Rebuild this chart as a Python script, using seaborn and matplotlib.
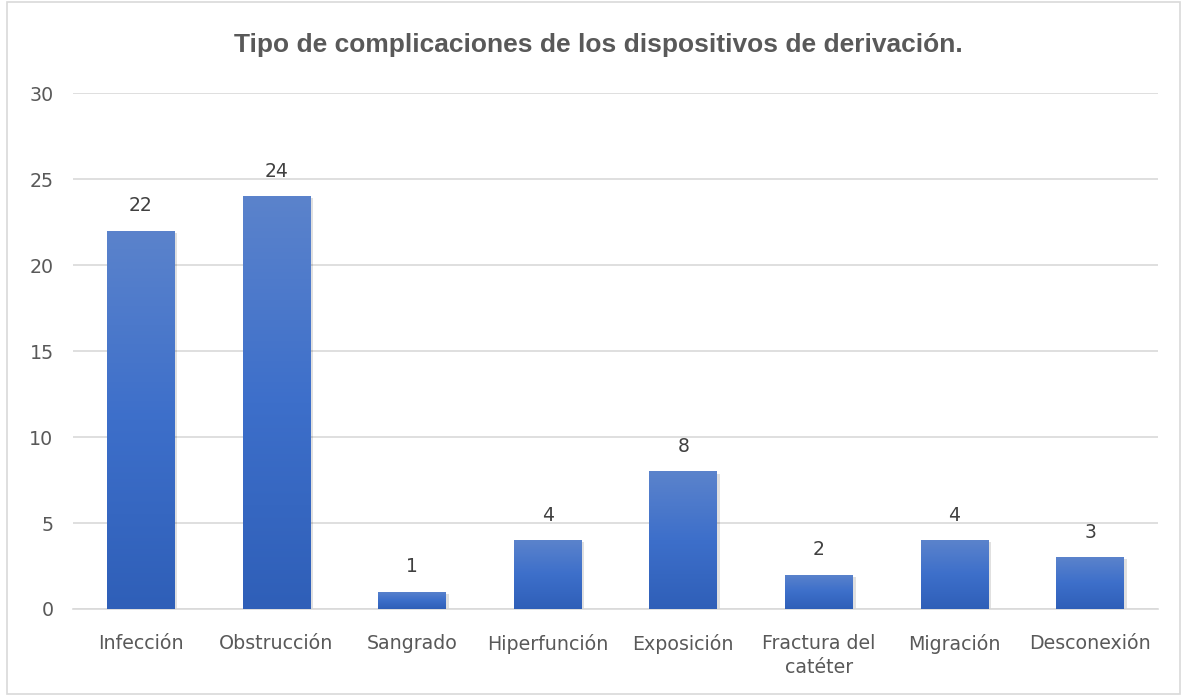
import numpy as np
import pandas as pd
import matplotlib
matplotlib.use("Agg")
import matplotlib.pyplot as plt
import seaborn as sns
from matplotlib.colors import LinearSegmentedColormap
from matplotlib.patches import Rectangle

# Data
categories = ["Infección", "Obstrucción", "Sangrado", "Hiperfunción", "Exposición",
              "Fractura del\ncatéter", "Migración", "Desconexión"]
counts = [22, 24, 1, 4, 8, 2, 4, 3]
title = "Tipo de complicaciones de los dispositivos de derivación."

df = pd.DataFrame({"tipo": categories, "n": counts})

sns.set_theme(style="white")
plt.rcParams['font.family'] = ['DejaVu Sans']

fig = plt.figure(figsize=(11.84, 6.96), dpi=100)
ax = fig.add_axes([0.0617, 0.125, 0.9163, 0.741])

sns.barplot(data=df, x="tipo", y="n", color="#4472c4", width=0.5, ax=ax, zorder=3)

# vertical gradient on each bar (lighter at the top)
grad = LinearSegmentedColormap.from_list("g", ["#2f5fb8", "#3d6fca", "#5b83cc"])
gimg = np.linspace(0, 1, 256).reshape(-1, 1)
for p in ax.patches:
    x0, y0 = p.get_x(), p.get_y()
    w, h = p.get_width(), p.get_height()
    # soft shadow
    ax.add_patch(Rectangle((x0 + 0.02, y0 - 0.12), w, h, color="#000000", alpha=0.12,
                           lw=0, zorder=2))
    im = ax.imshow(gimg, cmap=grad, aspect="auto", origin="lower",
                   extent=[x0, x0 + w, y0, y0 + h], zorder=4)
    im.set_clip_path(p)
    p.set_edgecolor("none")

for i, v in enumerate(counts):
    ax.text(i, v + 0.9, str(v), ha="center", va="bottom", fontsize=13.5, color="#404040")

ax.set_xlim(-0.5, len(categories) - 0.5)
ax.set_ylim(0, 30)
ax.set_yticks(range(0, 31, 5))
ax.yaxis.grid(True, color="#d9d9d9", linewidth=1.2, zorder=0)
ax.set_axisbelow(True)
for s in ["top", "right", "left"]:
    ax.spines[s].set_visible(False)
ax.spines["bottom"].set_color("#d9d9d9")
ax.spines["bottom"].set_linewidth(1.2)
ax.tick_params(axis="both", length=0, labelsize=13.7, labelcolor="#595959")
ax.tick_params(axis="y", pad=14)
ax.tick_params(axis="x", pad=18)
for t in ax.get_xticklabels():
    t.set_linespacing(1.35)
ax.set_xlabel("")
ax.set_ylabel("")

fig.text(0.505, 0.935, title, ha="center", va="center", fontsize=19,
         fontweight="bold", color="#595959", family="Liberation Sans")

# chart frame
fig.add_artist(Rectangle((7 / 1184, 2 / 696), 1173 / 1184, 692 / 696,
                         transform=fig.transFigure, fill=False,
                         edgecolor="#d9d9d9", linewidth=1.2))

fig.savefig("out.png", dpi=100)
